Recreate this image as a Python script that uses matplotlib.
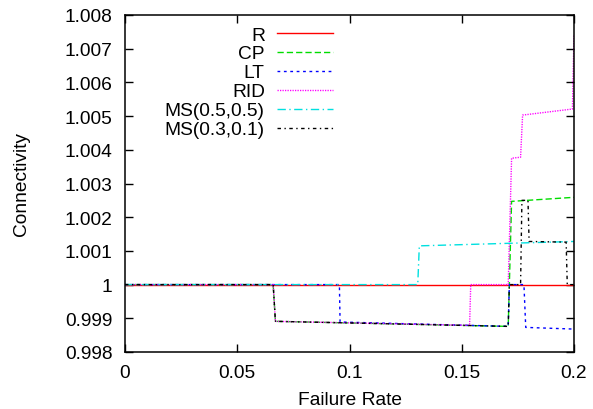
import matplotlib
matplotlib.use("Agg")
import matplotlib.pyplot as plt

plt.rcParams['font.family'] = ['Liberation Sans', 'DejaVu Sans']

# Data
r_x = [0.0, 0.2]
r_y = [1.0, 1.0]

cp_x = [0.0, 0.066, 0.067, 0.1707, 0.1722, 0.2]
cp_y = [1.0, 1.0, 0.99891, 0.99876, 1.00247, 1.00259]

lt_x = [0.0, 0.0955, 0.0958, 0.1707, 0.1712, 0.1777, 0.1785, 0.2]
lt_y = [1.0, 1.0, 0.99889, 0.99876, 1.0, 1.0, 0.99873, 0.99868]

rid_x = [0.0, 0.066, 0.067, 0.1535, 0.154, 0.1707, 0.1722, 0.1762, 0.1771, 0.1993, 0.2]
rid_y = [1.0, 1.0, 0.99891, 0.99879, 1.0, 1.0, 1.00375, 1.00378, 1.00503, 1.00521, 1.0074]

ms55_x = [0.0, 0.1304, 0.1311, 0.2]
ms55_y = [1.0, 1.0, 1.00115, 1.00128]

ms31_x = [0.0, 0.066, 0.067, 0.1707, 0.1712, 0.1762, 0.1768, 0.1795, 0.1800, 0.1965, 0.1970, 0.2]
ms31_y = [1.0, 1.0, 0.99891, 0.99876, 1.0, 1.0, 1.0025, 1.0025, 1.00128, 1.00126, 1.0, 1.0]

labels = ["R", "CP", "LT", "RID", "MS(0.5,0.5)", "MS(0.3,0.1)"]
xticks = [0, 0.05, 0.1, 0.15, 0.2]
xtick_labels = ["0", "0.05", "0.1", "0.15", "0.2"]
yticks = [0.998, 0.999, 1.0, 1.001, 1.002, 1.003, 1.004, 1.005, 1.006, 1.007, 1.008]
ytick_labels = ["0.998", "0.999", "1", "1.001", "1.002", "1.003", "1.004",
                "1.005", "1.006", "1.007", "1.008"]

fig = plt.figure(figsize=(5.93, 4.10), dpi=100)
ax = fig.add_axes([125/593, 57/410, 449/593, 337/410])

lw = 1.0
ax.plot(r_x, r_y, color='#ff0000', lw=lw, label=labels[0])
ax.plot(cp_x, cp_y, color='#00dd00', lw=lw, dashes=(4.5, 2.2), label=labels[1])
ax.plot(lt_x, lt_y, color='#0000ff', lw=lw, dashes=(2.0, 2.6), label=labels[2])
ax.plot(rid_x, rid_y, color='#ff00ff', lw=lw, dashes=(0.9, 0.9), label=labels[3])
ax.plot(ms55_x, ms55_y, color='#00e0e0', lw=lw, dashes=(6, 2.5, 1, 2.5), label=labels[4])
ax.plot(ms31_x, ms31_y, color='#000000', lw=lw, dashes=(2.5, 2.5, 1, 2.5), label=labels[5])

ax.set_xlim(0, 0.2)
ax.set_ylim(0.998, 1.008)
ax.set_xticks(xticks)
ax.set_xticklabels(xtick_labels)
ax.set_yticks(yticks)
ax.set_yticklabels(ytick_labels)
ax.tick_params(direction='in', length=6, width=1, top=True, right=True,
               labelsize=13.8, pad=9)
for s in ax.spines.values():
    s.set_linewidth(1.1)

ax.set_xlabel("Failure Rate", fontsize=13.8)
ax.set_ylabel("Connectivity", fontsize=13.8)
ax.xaxis.set_label_coords(0.5, -0.117)
ax.yaxis.set_label_coords(-0.2116, 0.5)

leg = ax.legend(markerfirst=False, frameon=False, loc='upper right',
                bbox_to_anchor=(0.463, 0.967), borderpad=0, borderaxespad=0,
                handlelength=2.9, handletextpad=0.65, labelspacing=0.08,
                fontsize=13.8)

fig.savefig("out.png", dpi=100)
